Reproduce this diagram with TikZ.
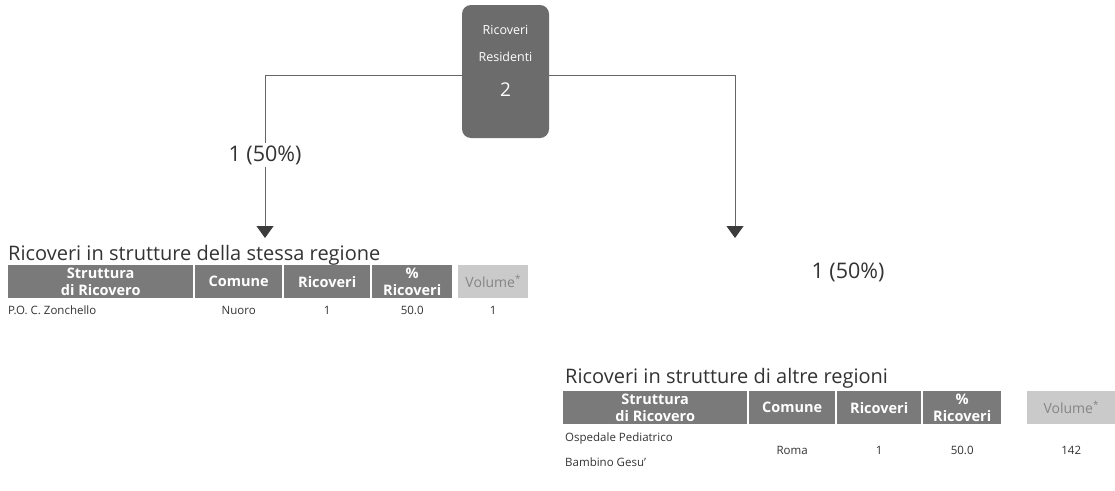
\documentclass[tikz,border=0pt]{standalone}
\usepackage{fontspec}
\setmainfont{Open Sans}
\usetikzlibrary{arrows.meta}
\definecolor{boxgray}{HTML}{6C6C6C}
\definecolor{hdrgray}{HTML}{7A7A7A}
\definecolor{volgray}{HTML}{CACACA}
\definecolor{voltext}{HTML}{858585}
\definecolor{linegray}{HTML}{666666}
\definecolor{tipgray}{HTML}{3C3C3C}
\definecolor{txtgray}{HTML}{333333}
\begin{document}
\begin{tikzpicture}[x=1pt,y=-1pt,
  rootbox/.style={fill=boxgray, rounded corners=9pt, minimum width=87pt, minimum height=133pt, inner sep=0},
  roottext/.style={text=white, align=center, font=\fontsize{12.5}{27}\selectfont, inner sep=0},
  hdr/.style={fill=hdrgray, text=white, font=\fontsize{14.5}{16.5}\selectfont\bfseries, align=center, minimum height=33pt, inner sep=0, anchor=north west},
  vol/.style={hdr, fill=volgray, text=voltext, font=\fontsize{14}{16}\selectfont},
  cell/.style={font=\fontsize{11.5}{25}\selectfont, text=txtgray, inner sep=0},
  lbl/.style={font=\fontsize{21.5}{24}\selectfont, text=txtgray, fill=white, inner sep=2pt},
  ttl/.style={font=\fontsize{20}{22}\selectfont, text=txtgray, anchor=west, inner sep=0},
  conn/.style={draw=linegray, line width=0.9pt},
  arrowend/.style={-{Triangle[width=17pt,length=12pt,fill=tipgray,color=tipgray]}}
]
\useasboundingbox (0,0) rectangle (1115,490);
% root
\node[rootbox] (root) at (505.5,71.5) {};
\node[roottext] (roottxt) at (505.5,61) {Ricoveri\\Residenti\\[8pt]{\fontsize{19}{19}\selectfont 2}};
% connectors
\coordinate (lc) at (265,75);
\coordinate (rc) at (735,75);
\coordinate (ltip) at (265,238);
\coordinate (rtip) at (735,238);
\node[lbl] (lab1) at (265,155) {1 (50\%)};
\node[lbl] (lab2) at (848,272) {1 (50\%)};
\draw[conn] (root.west |- lc) -- (lc) -- (lab1.north);
\draw[conn, arrowend] (lab1.south) -- (ltip);
\draw[conn, arrowend] (root.east |- rc) -- (rc) -- (rtip);
% left table
\node[ttl] (t1) at (8,255) {Ricoveri in strutture della stessa regione};
\node[hdr, minimum width=185pt] (a1) at (8,265) {Struttura\\di Ricovero};
\node[hdr, minimum width=87pt] (a2) at (195,265) {Comune};
\node[hdr, minimum width=86pt] (a3) at (284,265) {Ricoveri};
\node[hdr, minimum width=80pt] (a4) at (372,265) {\%\\Ricoveri};
\node[vol, minimum width=70pt] (a5) at (458,265) {Volume\textsuperscript{*}};
\node[cell, anchor=west] (d1) at (8,310) {P.O. C. Zonchello};
\node[cell] (d2) at (a2.center |- d1) {Nuoro};
\node[cell] (d3) at (a3.center |- d1) {1};
\node[cell] (d4) at (a4.center |- d1) {50.0};
\node[cell] (d5) at (a5.center |- d1) {1};
% right table
\node[ttl] (t2) at (565,378) {Ricoveri in strutture di altre regioni};
\node[hdr, minimum width=184pt] (b1) at (563,391) {Struttura\\di Ricovero};
\node[hdr, minimum width=86pt] (b2) at (749,391) {Comune};
\node[hdr, minimum width=84pt] (b3) at (837,391) {Ricoveri};
\node[hdr, minimum width=78pt] (b4) at (923,391) {\%\\Ricoveri};
\node[vol, minimum width=88pt] (b5) at (1027,391) {Volume\textsuperscript{*}};
\node[cell, anchor=west, align=left] (e1) at (565,450) {Ospedale Pediatrico\\Bambino Gesu'};
\node[cell] (e2) at (b2.center |- e1) {Roma};
\node[cell] (e3) at (b3.center |- e1) {1};
\node[cell] (e4) at (b4.center |- e1) {50.0};
\node[cell] (e5) at (b5.center |- e1) {142};
\end{tikzpicture}
\end{document}
